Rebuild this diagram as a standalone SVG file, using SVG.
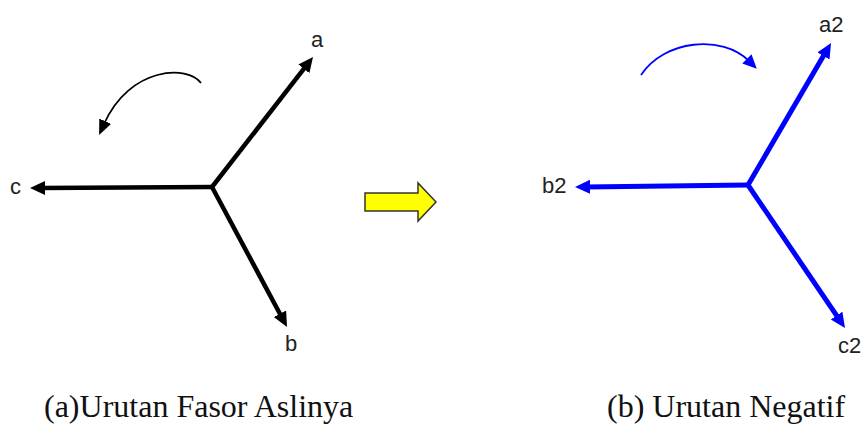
<svg xmlns="http://www.w3.org/2000/svg" width="867" height="426" viewBox="0 0 867 426">
<style>
.lbl{font-family:"Liberation Sans",Arial,sans-serif;font-size:22px;fill:#222}
.cap{font-family:"Liberation Serif","Times New Roman",serif;font-size:32px;fill:#111}
.blk{stroke:#000;stroke-width:4.5;fill:none;marker-end:url(#hk)}
.blu{stroke:#0000ff;stroke-width:5;fill:none;marker-end:url(#hb)}
</style>
<defs>
<marker id="hk" markerUnits="userSpaceOnUse" markerWidth="18" markerHeight="16" refX="5" refY="7" orient="auto"><path d="M0,0 L15,7 L0,14 z" fill="#000"/></marker>
<marker id="hb" markerUnits="userSpaceOnUse" markerWidth="18" markerHeight="16" refX="5" refY="7" orient="auto"><path d="M0,0 L15,7 L0,14 z" fill="#0000ff"/></marker>
<marker id="sk" markerUnits="userSpaceOnUse" markerWidth="18" markerHeight="16" refX="3" refY="6.5" orient="auto"><path d="M0,0 L15,6.5 L0,13 z" fill="#000"/></marker>
<marker id="sb" markerUnits="userSpaceOnUse" markerWidth="18" markerHeight="16" refX="3" refY="6.5" orient="auto"><path d="M0,0 L14,6.5 L0,13 z" fill="#0000ff"/></marker>
</defs>
<g id="connectors">
<line class="blk" x1="212" y1="187" x2="306.9" y2="64.9"/>
<line class="blk" x1="212" y1="187" x2="40" y2="188"/>
<line class="blk" x1="212" y1="187" x2="282.3" y2="318.2"/>
<path d="M201,83 C188,65 130,66 104,124" stroke="#000" stroke-width="1.8" fill="none" marker-end="url(#sk)"/>
<line class="blu" x1="748" y1="185" x2="826" y2="51.6"/>
<line class="blu" x1="748" y1="185" x2="585" y2="186.9"/>
<line class="blu" x1="748" y1="185" x2="839.4" y2="319.7"/>
<path d="M641,75 C664,40 722,34 749,61" stroke="#0000ff" stroke-width="1.8" fill="none" marker-end="url(#sb)"/>
</g>
<g id="label-a"><text class="lbl" x="311" y="47">a</text></g>
<g id="label-b"><text class="lbl" x="285" y="351">b</text></g>
<g id="label-c"><text class="lbl" x="10" y="194">c</text></g>
<g id="label-a2"><text class="lbl" x="819" y="32">a2</text></g>
<g id="label-b2"><text class="lbl" x="542" y="193">b2</text></g>
<g id="label-c2"><text class="lbl" x="838" y="353">c2</text></g>
<g id="transition-arrow"><polygon points="365,193 418,193 418,183 436,202 418,221 418,211 365,211" fill="#ffff00" stroke="#333" stroke-width="1.5" stroke-linejoin="miter"/></g>
<g id="caption-a"><text class="cap" x="44" y="417">(a)Urutan Fasor Aslinya</text></g>
<g id="caption-b"><text class="cap" x="607" y="417">(b) Urutan Negatif</text></g>
</svg>
